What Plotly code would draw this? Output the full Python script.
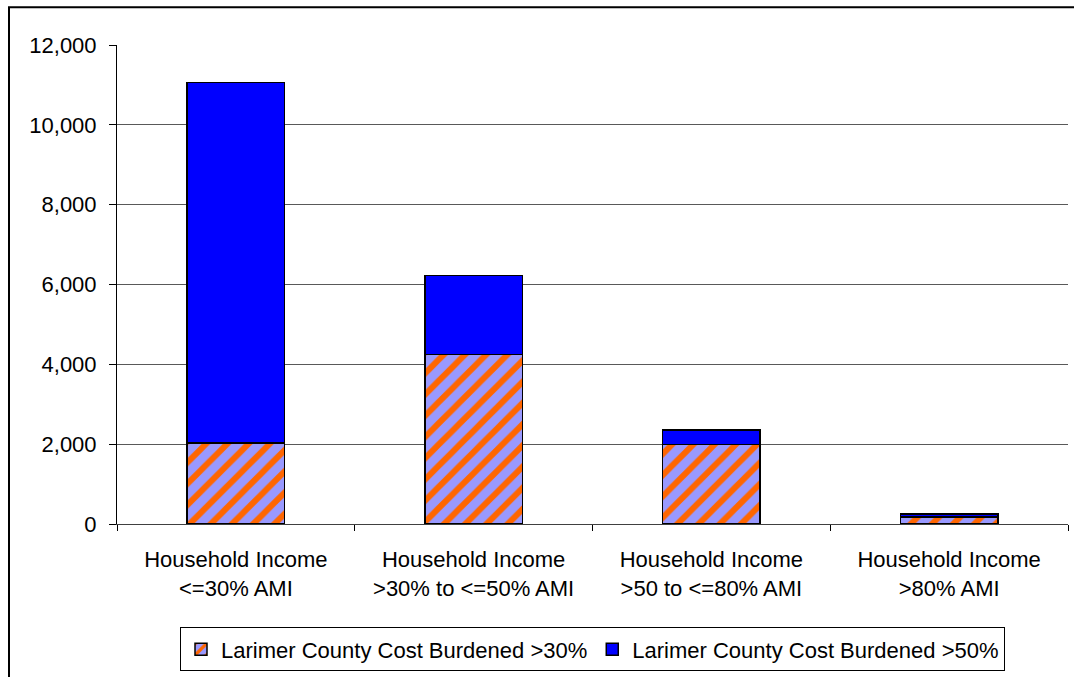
import plotly.graph_objects as go

# Housing cost burden by household income band, Larimer County
categories = [
    "Household Income<br><=30% AMI",
    "Household Income<br>>30% to <=50% AMI",
    "Household Income<br>>50 to <=80% AMI",
    "Household Income<br>>80% AMI",
]
burdened_30 = [2025, 4245, 1995, 180]
burdened_50 = [9035, 1985, 360, 65]
series_names = [
    "Larimer County Cost Burdened >30%",
    "Larimer County Cost Burdened >50%",
]
y_ticks = [0, 2000, 4000, 6000, 8000, 10000, 12000]

FONT = "Liberation Sans, Arial, sans-serif"
FS = 22

fig = go.Figure()
fig.add_trace(go.Bar(
    x=categories, y=burdened_30, name=series_names[0], width=0.41,
    marker=dict(
        color="#9999FF",
        line=dict(color="black", width=1.5),
        pattern=dict(shape="/", bgcolor="#9999FF", fgcolor="#FF6600",
                     size=15, solidity=0.4, fillmode="replace"),
    ),
))
fig.add_trace(go.Bar(
    x=categories, y=burdened_50, name=series_names[1], width=0.41,
    marker=dict(color="#0000FF", line=dict(color="black", width=1.5)),
))

L, R, T, B = 117, 6, 45, 150
W, H = 1074, 677
pw, ph = W - L - R, H - T - B

def px_x(x):
    return (x - L) / pw

def px_y(y):
    return (H - B - y) / ph

fig.update_layout(
    width=W, height=H,
    margin=dict(l=L, r=R, t=T, b=B, pad=0),
    paper_bgcolor="white", plot_bgcolor="white",
    barmode="stack",
    font=dict(family=FONT, size=FS, color="black"),
    showlegend=True,
    legend=dict(
        orientation="h", x=0.5, xanchor="center", y=px_y(631), yanchor="top",
        bordercolor="black", borderwidth=1, traceorder="normal",
        font=dict(family=FONT, size=FS, color="black"),
        itemwidth=30,
    ),
    xaxis=dict(
        type="category", showline=True, linecolor="#404040", linewidth=1,
        ticks="outside", tickson="boundaries", ticklen=6, tickcolor="black",
        showgrid=False, ticklabelstandoff=16,
    ),
    yaxis=dict(
        range=[0, 12000], tickvals=y_ticks, tickformat=",",
        showline=True, linecolor="black", linewidth=1,
        ticks="outside", ticklen=7, tickcolor="black",
        showgrid=True, gridcolor="#595959", gridwidth=1,
        zeroline=False, ticklabelstandoff=8,
    ),
    shapes=[
        dict(type="rect", xref="paper", yref="paper",
             x0=px_x(9), x1=px_x(1080), y0=px_y(690), y1=px_y(7),
             line=dict(color="black", width=2), fillcolor="rgba(0,0,0,0)",
             layer="below"),
    ],
)

fig.write_html("out.html")
